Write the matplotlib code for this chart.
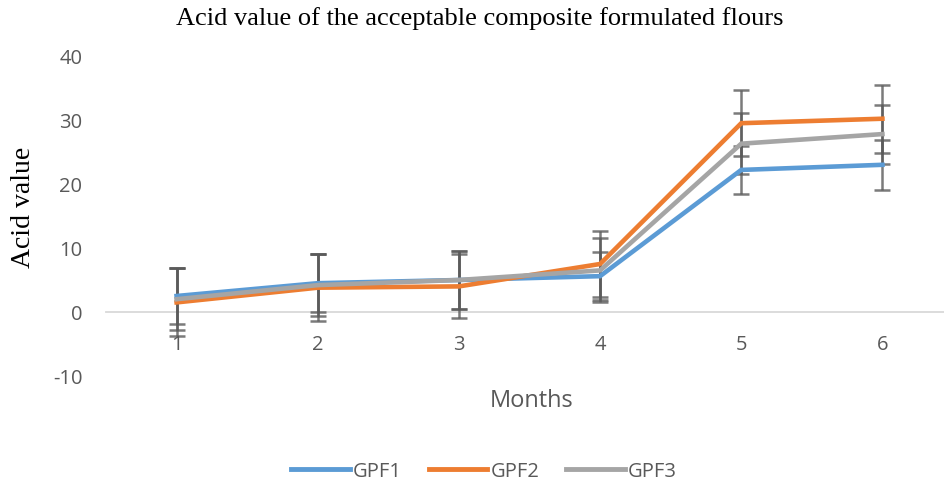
import matplotlib
matplotlib.use("Agg")
import matplotlib.pyplot as plt
from matplotlib.lines import Line2D

plt.rcParams["axes.unicode_minus"] = False

months = [1, 2, 3, 4, 5, 6]
gpf1 = [2.5, 4.5, 5.0, 5.6, 22.2, 23.0]
gpf2 = [1.5, 3.8, 4.0, 7.5, 29.5, 30.2]
gpf3 = [2.0, 4.2, 5.0, 6.5, 26.3, 27.8]
err1 = [4.4, 4.5, 4.5, 3.8, 3.8, 3.9]
err2 = [5.3, 5.2, 5.0, 5.2, 5.2, 5.3]
err3 = [4.8, 4.8, 4.5, 5.0, 4.8, 4.6]
series_names = ["GPF1", "GPF2", "GPF3"]
colors = ["#5B9BD5", "#ED7D31", "#A5A5A5"]

W, H = 944, 489
fig = plt.figure(figsize=(W / 100, H / 100), dpi=100)
left, right = 106, 953
top, bottom = 57, 377
ax = fig.add_axes([left / W, 1 - bottom / H, (right - left) / W, (bottom - top) / H])

tick_font = "Open Sans"
for vals, errs in zip([gpf1, gpf2, gpf3], [err1, err2, err3]):
    ax.errorbar(months, vals, yerr=errs, fmt="none", ecolor="#5a5a5a", elinewidth=1.8,
                capsize=5.5, capthick=1.8, alpha=0.8, zorder=2)
for vals, c, name in zip([gpf1, gpf2, gpf3], colors, series_names):
    ax.plot(months, vals, color=c, lw=3.3, label=name, zorder=3, solid_joinstyle="miter")

ax.set_xlim(0.5, 6.5)
ax.set_ylim(-10, 40)
ax.set_yticks([-10, 0, 10, 20, 30, 40])
ax.set_xticks(months)
for s in ["top", "right", "left"]:
    ax.spines[s].set_visible(False)
ax.spines["bottom"].set_position(("data", 0))
ax.spines["bottom"].set_color("#D9D9D9")
ax.spines["bottom"].set_linewidth(1.3)
ax.spines["bottom"].set_zorder(1)
ax.tick_params(axis="both", length=0, colors="#595959", labelsize=14.5)
ax.tick_params(axis="y", pad=17)
ax.tick_params(axis="x", pad=16)
for lab in ax.get_xticklabels() + ax.get_yticklabels():
    lab.set_fontfamily(tick_font)

fig.text(480 / W, 1 - 19 / H, "Acid value of the acceptable composite formulated flours",
         ha="center", va="center", fontsize=19, family="Liberation Serif", color="black")
fig.text(24 / W, 1 - 207 / H, "Acid value", rotation=90, ha="center", va="center",
         fontsize=20, family="Liberation Serif", color="black")
fig.text(532 / W, 1 - 401 / H, "Months", ha="center", va="center", fontsize=17,
         family=tick_font, color="#595959")

handles = [Line2D([0], [0], color=c, lw=3.5) for c in colors]
leg = fig.legend(handles, series_names, loc="center", bbox_to_anchor=(484 / W, 1 - 472 / H),
                 ncol=3, frameon=False, fontsize=14.5, handlelength=2.9, handletextpad=0.15,
                 columnspacing=1.35)
for t in leg.get_texts():
    t.set_color("#595959")
    t.set_fontfamily(tick_font)

fig.savefig("out.png", dpi=100)
